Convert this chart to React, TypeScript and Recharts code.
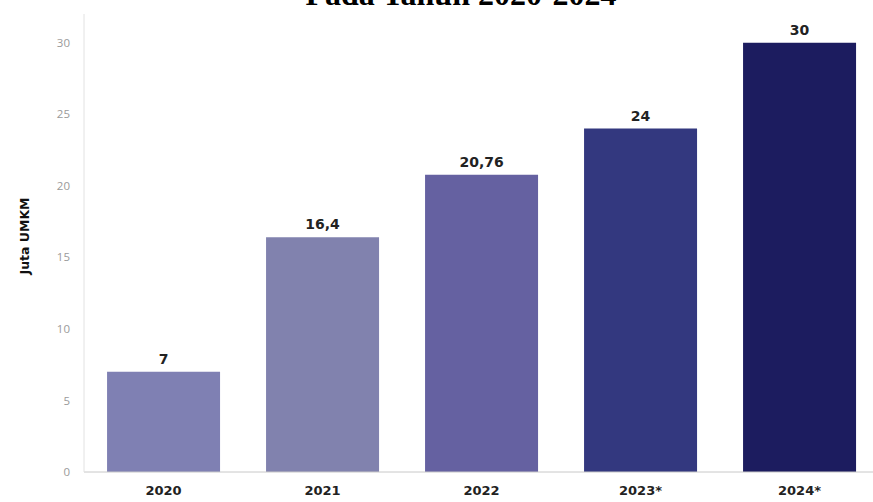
import React from 'react';
import { BarChart, Bar, XAxis, YAxis, Cell, LabelList, Label } from 'recharts';

const years = ['2020', '2021', '2022', '2023*', '2024*'];
const umkm = [7, 16.4, 20.76, 24, 30];
const valueLabels = ['7', '16,4', '20,76', '24', '30'];
const barColors = ['#7f80b3', '#8182ae', '#6561a1', '#33387f', '#1c1c5f'];
const yTicks = [0, 5, 10, 15, 20, 25, 30];

const data = years.map((year, i) => ({ year, value: umkm[i], label: valueLabels[i] }));

const YLabel = ({ viewBox }: any) => {
  const cy = viewBox.y + viewBox.height / 2 - 7;
  return (
    <text
      x={24}
      y={cy}
      transform={`rotate(-90, 24, ${cy})`}
      textAnchor="middle"
      dominantBaseline="central"
      fontFamily="DejaVu Sans"
      fontWeight={700}
      fontSize={12.5}
      fill="#111"
    >
      Juta UMKM
    </text>
  );
};

export default function App() {
  return (
    <div
      style={{
        position: 'fixed',
        left: 0,
        top: 0,
        width: 873,
        height: 502,
        overflow: 'hidden',
        background: '#fff',
      }}
    >
      <div
        style={{
          position: 'absolute',
          left: 461,
          top: -22,
          transform: 'translateX(-50%)',
          whiteSpace: 'nowrap',
          fontFamily: '"Liberation Serif", serif',
          fontWeight: 700,
          fontSize: 32,
          lineHeight: '32px',
          color: '#000',
        }}
      >
        Pada Tahun 2020-2024
      </div>
      <BarChart
        width={880}
        height={502}
        data={data}
        margin={{ top: 14, right: 1, bottom: 0, left: 0 }}
        barCategoryGap="14.5%"
      >
        <XAxis
          dataKey="year"
          height={30}
          stroke="#c8c8c8"
          tickLine={false}
          tickSize={0}
          tickMargin={14}
          tick={{ fontFamily: 'DejaVu Sans', fontWeight: 700, fontSize: 13, fill: '#222' }}
        />
        <YAxis
          width={84}
          domain={[0, 32]}
          ticks={yTicks}
          stroke="#e2e2e2"
          tickLine={false}
          tickSize={0}
          tickMargin={14}
          tick={{ fontFamily: 'Open Sans', fontSize: 11.5, fill: '#9a9a9a' }}
        >
          <Label content={<YLabel />} />
        </YAxis>
        <Bar dataKey="value" isAnimationActive={false}>
          {data.map((d, i) => (
            <Cell key={d.year} fill={barColors[i]} />
          ))}
          <LabelList
            dataKey="label"
            position="top"
            offset={8}
            style={{ fontFamily: 'DejaVu Sans', fontWeight: 700, fontSize: 14, fill: '#222' }}
          />
        </Bar>
      </BarChart>
    </div>
  );
}
